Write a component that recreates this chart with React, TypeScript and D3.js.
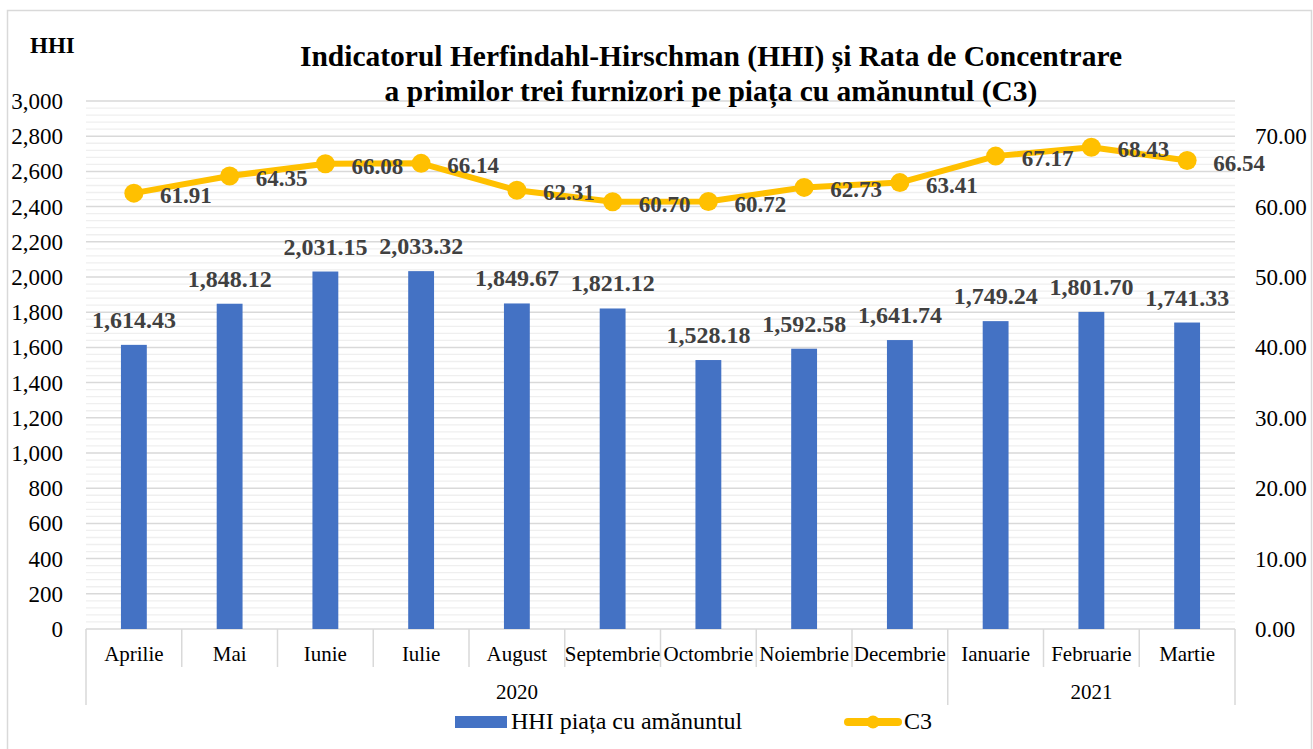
import React from "react";
import * as d3 from "d3";

const months = ["Aprilie","Mai","Iunie","Iulie","August","Septembrie","Octombrie","Noiembrie","Decembrie","Ianuarie","Februarie","Martie"];
const hhi = [1614.43,1848.12,2031.15,2033.32,1849.67,1821.12,1528.18,1592.58,1641.74,1749.24,1801.70,1741.33];
const c3 = [61.91,64.35,66.08,66.14,62.31,60.70,60.72,62.73,63.41,67.17,68.43,66.54];
const years = [{label:"2020", from:0, to:8},{label:"2021", from:9, to:11}];
const leftTicks = d3.range(0, 3001, 200);
const rightTicks = d3.range(0, 71, 10);

const FONT = "'Liberation Serif', 'Times New Roman', serif";
const BLUE = "#4472C4";
const GOLD = "#FFC000";
const LABEL = "#404040";

export default function App() {
  const W = 1313, H = 749;
  const L = 86, R = 1235, T = 101, B = 629;
  const x = d3.scaleBand<string>().domain(months).range([L, R]).paddingInner(0).paddingOuter(0);
  const y = d3.scaleLinear().domain([0, 3000]).range([B, T]);
  const y2 = d3.scaleLinear().domain([0, 75]).range([B, T]);
  const bw = x.bandwidth() * 0.27;
  const cx = (m: string) => (x(m) as number) + x.bandwidth() / 2;
  const minor = d3.range(0, 3001, 40).filter(v => v % 200 !== 0);
  const line = d3.line<number>().x((_, i) => cx(months[i])).y(v => y2(v));
  const fmt = d3.format(",.2f");
  const edge = (i: number) => (i < months.length ? (x(months[i]) as number) : R);
  const yearEdges = new Set<number>([0, 9, 12]);

  return (
    <svg width={W} height={H} style={{ position: "absolute", left: 0, top: 0, background: "#fff" }} fontFamily={FONT}>
      <rect x={0} y={0} width={W} height={H} fill="#fff" />
      <rect x={7.5} y={10.5} width={1304} height={760} fill="none" stroke="#d9d9d9" strokeWidth={1.5} />
      {/* gridlines */}
      {minor.map(v => (
        <line key={"m" + v} x1={L} x2={R} y1={y(v)} y2={y(v)} stroke="#efefef" strokeWidth={1.3} />
      ))}
      {leftTicks.map(v => (
        <line key={"g" + v} x1={L} x2={R} y1={y(v)} y2={y(v)} stroke="#d9d9d9" strokeWidth={1.5} />
      ))}
      {/* x axis separators */}
      {d3.range(0, months.length + 1).map(i => (
        <line key={"s" + i} x1={edge(i)} x2={edge(i)} y1={B} y2={yearEdges.has(i) ? 705 : 667} stroke="#d9d9d9" strokeWidth={1.5} />
      ))}
      {/* bars */}
      {hhi.map((v, i) => (
        <rect key={"b" + i} x={cx(months[i]) - bw / 2} y={y(v)} width={bw} height={B - y(v)} fill={BLUE} />
      ))}
      {hhi.map((v, i) => (
        <text key={"bl" + i} x={cx(months[i])} y={y(v) - 17} textAnchor="middle" fontSize={24} fontWeight="bold" fill={LABEL}>{fmt(v)}</text>
      ))}
      {/* line */}
      <path d={line(c3) || ""} fill="none" stroke={GOLD} strokeWidth={6} strokeLinejoin="round" />
      {c3.map((v, i) => (
        <circle key={"c" + i} cx={cx(months[i])} cy={y2(v)} r={9.5} fill={GOLD} />
      ))}
      {c3.map((v, i) => (
        <text key={"cl" + i} x={cx(months[i]) + 26} y={y2(v) + 2} dy="0.35em" fontSize={23} fontWeight="bold" fill={LABEL}>{v.toFixed(2)}</text>
      ))}
      {/* left axis */}
      {leftTicks.map(v => (
        <text key={"lt" + v} x={63} y={y(v)} dy="0.35em" textAnchor="end" fontSize={23} fill="#000">{d3.format(",")(v)}</text>
      ))}
      {rightTicks.map(v => (
        <text key={"rt" + v} x={1255} y={y2(v)} dy="0.35em" textAnchor="start" fontSize={23} fill="#000">{v.toFixed(2)}</text>
      ))}
      {/* month labels */}
      {months.map(m => (
        <text key={"ml" + m} x={cx(m)} y={661} textAnchor="middle" fontSize={21} fill="#000">{m}</text>
      ))}
      {years.map(yr => (
        <text key={"yl" + yr.label} x={(edge(yr.from) + edge(yr.to + 1)) / 2} y={699} textAnchor="middle" fontSize={21} fill="#000">{yr.label}</text>
      ))}
      {/* titles */}
      <text x={30} y={53} fontSize={23} fontWeight="bold" fill="#000">HHI</text>
      <text x={711} y={66} textAnchor="middle" fontSize={29.5} fontWeight="bold" fill="#000">Indicatorul Herfindahl-Hirschman (HHI) și Rata de Concentrare</text>
      <text x={711} y={101} textAnchor="middle" fontSize={29.5} fontWeight="bold" fill="#000">a primilor trei furnizori pe piața cu amănuntul (C3)</text>
      {/* legend */}
      <rect x={455} y={716} width={52} height={12} fill={BLUE} />
      <text x={511} y={729} fontSize={24} fill="#000" fontFamily={FONT}>HHI piața cu amănuntul</text>
      <line x1={848} x2={898} y1={722} y2={722} stroke={GOLD} strokeWidth={8} strokeLinecap="round" />
      <circle cx={873} cy={722} r={6.5} fill={GOLD} />
      <text x={904} y={729} fontSize={24} fill="#000" fontFamily={FONT}>C3</text>
    </svg>
  );
}
